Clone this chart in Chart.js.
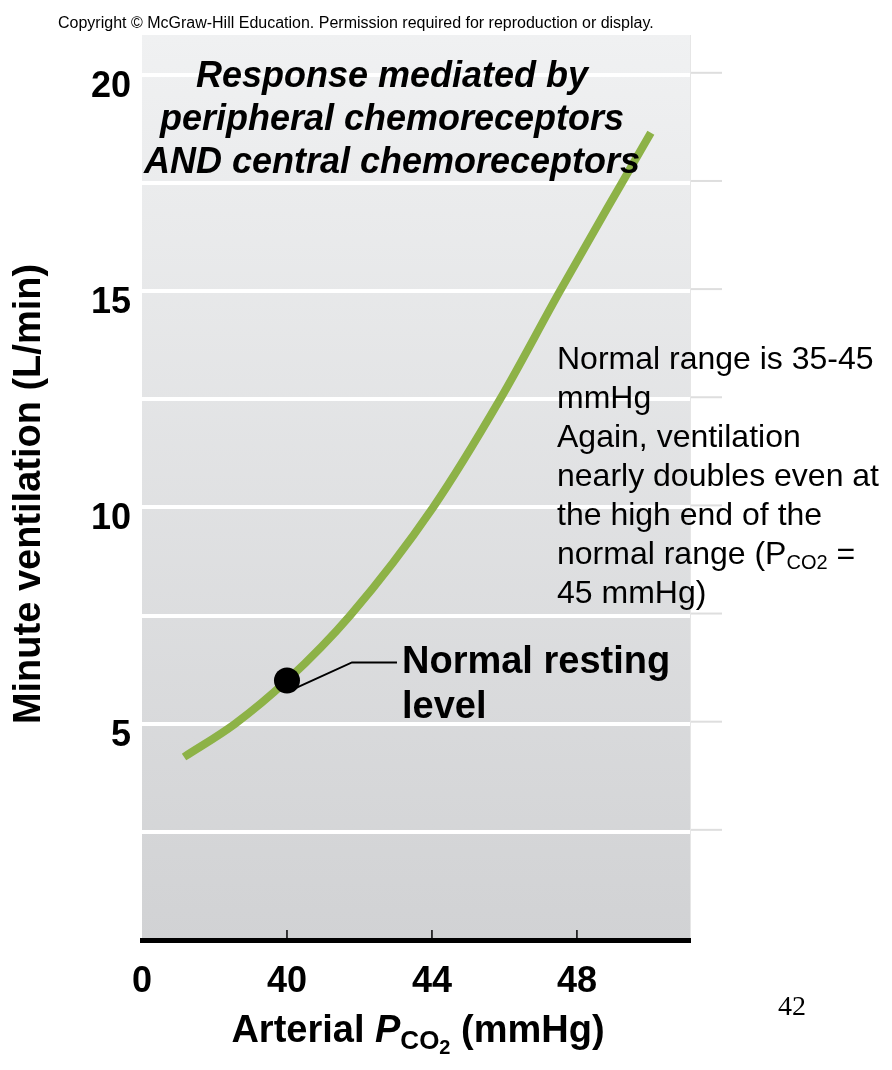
<!DOCTYPE html>
<html>
<head>
<meta charset="utf-8">
<script src="https://cdn.jsdelivr.net/npm/chart.js@4.4.1/dist/chart.umd.min.js"></script>
<style>
  html, body { margin: 0; background: #fff; }
</style>
</head>
<body>
<canvas id="chart" width="892" height="1070" style="width:892px;height:1070px"></canvas>
<script>
// Curve: arterial PCO2 (mmHg) vs minute ventilation (L/min)
const pco2 = [37.16, 38.57, 40.0, 41.74, 44.03, 45.88, 47.53, 49.24, 50.04];
const ventilation = [4.23, 5.0, 6.0, 7.5, 10.0, 12.5, 15.0, 17.5, 18.66];

// Normal resting point
const restingPco2 = [40];
const restingVentilation = [6];

// Axis ticks (the "0" tick sits at the broken start of the axis)
const xTickValues = [36, 40, 44, 48];
const xTickLabels = ["0", "40", "44", "48"];
const yGridValues = [0, 2.5, 5, 7.5, 10, 12.5, 15, 17.5, 20];
const yTickLabels = { 5: "5", 10: "10", 15: "15", 20: "20" };

const titleLines = [
  "Response mediated by",
  "peripheral chemoreceptors",
  "AND central chemoreceptors",
];
const noteLines = [
  "Normal range is 35-45",
  "mmHg",
  "Again, ventilation",
  "nearly doubles even at",
  "the high end of the",
  null, // "normal range (PCO2 =" with subscript, drawn below
  "45 mmHg)",
];

const NARROW = "'Liberation Sans Narrow', 'Liberation Sans', Arial, sans-serif";
const SANS = "'Liberation Sans', Arial, sans-serif";

// draw text pieces one after the other, each with its own font and y shift
function drawRuns(ctx, x, y, runs, align) {
  let total = 0;
  runs.forEach((r) => {
    ctx.font = r.font;
    total += ctx.measureText(r.text).width;
  });
  let cx = align === "center" ? x - total / 2 : x;
  ctx.textAlign = "left";
  runs.forEach((r) => {
    ctx.font = r.font;
    ctx.fillText(r.text, cx, y + (r.dy || 0));
    cx += ctx.measureText(r.text).width;
  });
}

const backdrop = {
  id: "backdrop",
  beforeDraw(chart) {
    const { ctx, chartArea: a, scales } = chart;
    ctx.save();
    const g = ctx.createLinearGradient(0, a.top, 0, a.bottom);
    g.addColorStop(0, "#f0f1f2");
    g.addColorStop(1, "#d1d2d4");
    ctx.fillStyle = g;
    ctx.fillRect(a.left, a.top, a.right - a.left, a.bottom - a.top);

    // short stubs of the grid lines past the right edge
    ctx.strokeStyle = "#dedede";
    ctx.lineWidth = 2;
    yGridValues.slice(1).forEach((v) => {
      const py = scales.y.getPixelForValue(v) - 2;
      ctx.beginPath();
      ctx.moveTo(a.right, py);
      ctx.lineTo(a.right + 32, py);
      ctx.stroke();
    });
    ctx.strokeStyle = "#e6e6e6";
    ctx.lineWidth = 1;
    ctx.beginPath();
    ctx.moveTo(a.right + 0.5, a.top);
    ctx.lineTo(a.right + 0.5, a.bottom);
    ctx.stroke();
    ctx.restore();
  },
};

const annotations = {
  id: "annotations",
  afterDatasetsDraw(chart) {
    const { ctx, chartArea: a, scales } = chart;
    const x = scales.x;
    const y = scales.y;
    ctx.save();
    ctx.fillStyle = "#000";
    ctx.strokeStyle = "#000";

    // small tick marks on the x axis
    ctx.lineWidth = 1.5;
    xTickValues.slice(1).forEach((v) => {
      const px = x.getPixelForValue(v);
      ctx.beginPath();
      ctx.moveTo(px, a.bottom - 10);
      ctx.lineTo(px, a.bottom);
      ctx.stroke();
    });

    // leader line from the resting point to its label
    const dx = x.getPixelForValue(restingPco2[0]);
    const dy = y.getPixelForValue(restingVentilation[0]);
    ctx.lineWidth = 2;
    ctx.beginPath();
    ctx.moveTo(dx + 8, dy + 8);
    ctx.lineTo(dx + 65, dy - 18);
    ctx.lineTo(dx + 110, dy - 18);
    ctx.stroke();

    ctx.textBaseline = "middle";
    ctx.font = "bold 38px " + NARROW;
    ctx.textAlign = "left";
    ctx.fillText("Normal resting", 402, 663);
    ctx.fillText("level", 402, 708);

    // title
    ctx.font = "italic bold 36px " + NARROW;
    ctx.textAlign = "center";
    titleLines.forEach((t, i) => ctx.fillText(t, 392, 77 + i * 43));

    // note on the right
    ctx.textAlign = "left";
    const noteFont = "32px " + SANS;
    noteLines.forEach((t, i) => {
      const ly = 360 + i * 39;
      if (t) {
        ctx.font = noteFont;
        ctx.fillText(t, 557, ly);
      } else {
        drawRuns(ctx, 557, ly, [
          { text: "normal range (P", font: noteFont },
          { text: "CO2", font: "20px " + SANS, dy: 8 },
          { text: " =", font: noteFont },
        ]);
      }
    });

    // axis titles
    ctx.font = "bold 38px " + NARROW;
    ctx.save();
    ctx.translate(30, 494);
    ctx.rotate(-Math.PI / 2);
    ctx.textAlign = "center";
    ctx.fillText("Minute ventilation (L/min)", 0, 0);
    ctx.restore();

    drawRuns(
      ctx,
      418,
      1032,
      [
        { text: "Arterial ", font: "bold 38px " + NARROW },
        { text: "P", font: "italic bold 38px " + NARROW },
        { text: "CO", font: "bold 26px " + NARROW, dy: 10 },
        { text: "2", font: "bold 20px " + NARROW, dy: 16 },
        { text: " (mmHg)", font: "bold 38px " + NARROW },
      ],
      "center",
    );

    // page furniture
    ctx.font = "16px " + NARROW;
    ctx.fillText(
      "Copyright © McGraw-Hill Education. Permission required for reproduction or display.",
      58,
      24,
    );
    ctx.font = "28px 'Liberation Serif', 'Times New Roman', serif";
    ctx.fillText("42", 778, 1008);
    ctx.restore();
  },
};

new Chart(document.getElementById("chart"), {
  type: "line",
  data: {
    datasets: [
      {
        label: "Normal resting level",
        data: restingPco2.map((v, i) => ({ x: v, y: restingVentilation[i] })),
        showLine: false,
        pointRadius: 13,
        pointBackgroundColor: "#000",
        pointBorderWidth: 0,
      },
      {
        label: "Ventilation",
        data: pco2.map((v, i) => ({ x: v, y: ventilation[i] })),
        borderColor: "#8db247",
        borderWidth: 8,
        borderCapStyle: "butt",
        cubicInterpolationMode: "monotone",
        pointRadius: 0,
        fill: false,
      },
    ],
  },
  options: {
    responsive: false,
    animation: false,
    events: [],
    layout: { padding: { top: 35, right: 202, left: 0, bottom: 0 } },
    plugins: { legend: { display: false }, tooltip: { enabled: false } },
    scales: {
      x: {
        type: "linear",
        min: 36,
        max: 51.12,
        afterFit: (s) => { s.height = 130; },
        afterBuildTicks: (s) => { s.ticks = xTickValues.map((v) => ({ value: v })); },
        grid: { display: false, drawTicks: false },
        border: { color: "#000", width: 5 },
        ticks: {
          padding: 20,
          color: "#000",
          font: { family: NARROW, size: 36, weight: "bold" },
          callback: (v) => xTickLabels[xTickValues.indexOf(v)],
        },
      },
      y: {
        min: 0,
        max: 20.92,
        afterFit: (s) => { s.width = 142; },
        afterBuildTicks: (s) => { s.ticks = yGridValues.map((v) => ({ value: v })); },
        grid: { color: "#fff", lineWidth: 4, drawTicks: false },
        border: { display: false },
        ticks: {
          padding: 11,
          labelOffset: 12,
          color: "#000",
          font: { family: NARROW, size: 36, weight: "bold" },
          callback: (v) => yTickLabels[v] || "",
        },
      },
    },
  },
  plugins: [backdrop, annotations],
});
</script>
</body>
</html>
